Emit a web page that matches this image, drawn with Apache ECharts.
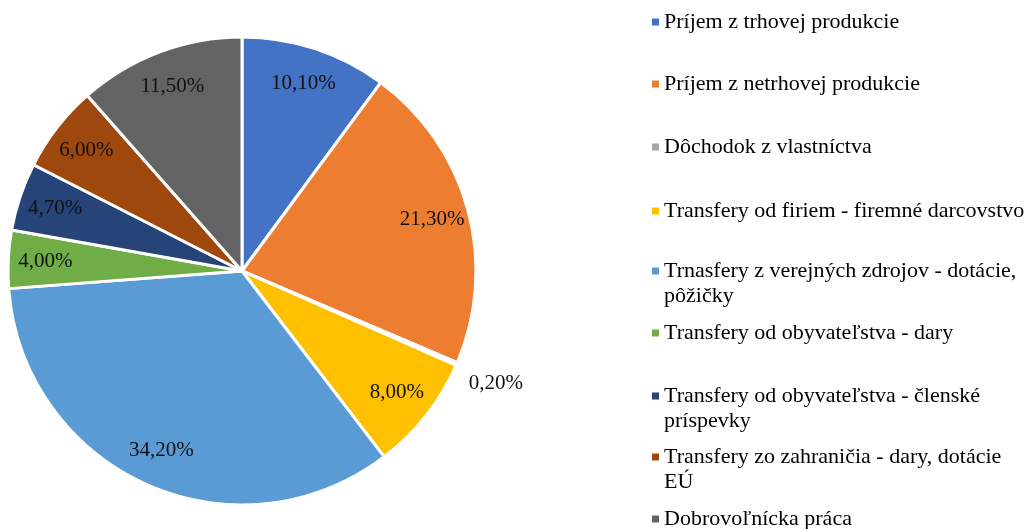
<!DOCTYPE html>
<html>
<head>
<meta charset="utf-8">
<script src="https://cdn.jsdelivr.net/npm/echarts@6/dist/echarts.min.js"></script>
<style>
html, body { margin: 0; padding: 0; background: #fff; }
#main { width: 1031px; height: 529px; }
</style>
</head>
<body>
<div id="main"></div>
<script>
var myChart = echarts.init(document.getElementById('main'));

// podiel zdrojov financovania (%)
var categories = [
    'Príjem z trhovej produkcie',
    'Príjem z netrhovej produkcie',
    'Dôchodok z vlastníctva',
    'Transfery od firiem - firemné darcovstvo',
    'Trnasfery z verejných zdrojov - dotácie, pôžičky',
    'Transfery od obyvateľstva - dary',
    'Transfery od obyvateľstva - členské príspevky',
    'Transfery zo zahraničia - dary, dotácie EÚ',
    'Dobrovoľnícka práca'
];
var values = [10.1, 21.3, 0.2, 8.0, 34.2, 4.0, 4.7, 6.0, 11.5];
var colors = ['#4472C4', '#ED7D31', '#A5A5A5', '#FFC000', '#5B9BD5', '#70AD47', '#264478', '#9E480E', '#636363'];

// layout legendy (stred prveho riadku textu)
var legendRows = [22, 84, 147, 211, 271, 333, 396, 457, 519];
var twoLines = [false, false, false, false, true, false, true, true, false];

var font = "'Liberation Serif', 'Times New Roman', serif";

var pieData = categories.map(function (c, i) {
    return { name: c, value: values[i], itemStyle: { color: colors[i] } };
});

var labelData = categories.map(function (c, i) {
    var d = { name: c, value: values[i] };
    if (values[i] < 1) {
        d.label = { offset: [73, 34] };   // 0,20% je mimo kruhu
    }
    return d;
});

var legends = categories.map(function (c, i) {
    return {
        data: [c],
        left: 652,
        top: legendRows[i] - 12.5,
        padding: 0,
        itemWidth: 7,
        itemHeight: twoLines[i] ? 32 : 7,
        itemGap: 0,
        icon: twoLines[i] ? 'path://M0,0h7v7h-7zM0,0v32' : 'rect',
        itemStyle: { borderWidth: 0 },
        selectedMode: false,
        textStyle: {
            fontFamily: font,
            fontSize: 22,
            lineHeight: 25,
            color: '#000',
            width: twoLines[i] ? 385 : 500,
            overflow: 'break'
        }
    };
});

var option = {
    animation: false,
    legend: legends,
    series: [{
        type: 'pie',
        center: [242, 271],
        radius: [0, 234],
        startAngle: 90,
        clockwise: true,
        data: pieData,
        label: { show: false },
        labelLine: { show: false },
        itemStyle: { borderColor: '#fff', borderWidth: 3 },
        emphasis: { disabled: true }
    }, {
        type: 'pie',
        center: [242, 271],
        radius: [154, 234],
        startAngle: 90,
        clockwise: true,
        silent: true,
        avoidLabelOverlap: false,
        data: labelData,
        itemStyle: { color: 'rgba(0,0,0,0)', borderWidth: 0 },
        label: {
            show: true,
            position: 'inside',
            fontFamily: font,
            fontSize: 21,
            color: '#111',
            formatter: function (p) {
                return p.value.toFixed(2).replace('.', ',') + '%';
            }
        },
        labelLine: { show: false },
        emphasis: { disabled: true }
    }]
};

myChart.setOption(option);
</script>
</body>
</html>
